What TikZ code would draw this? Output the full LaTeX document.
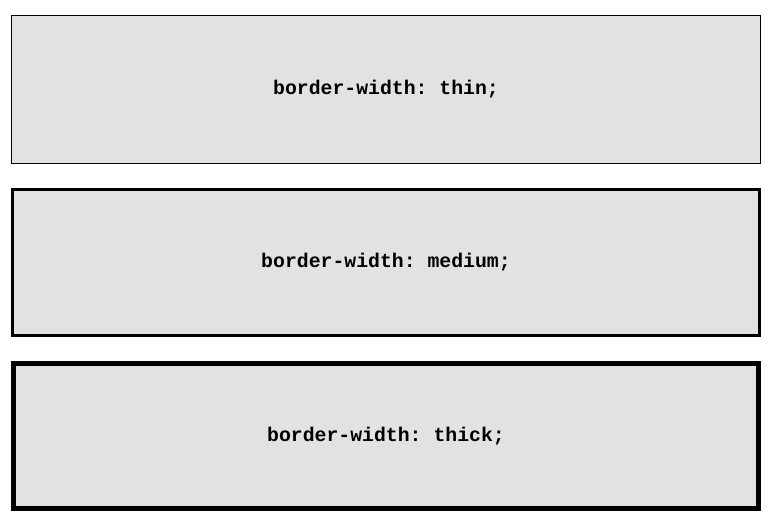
\documentclass[tikz,border=0pt]{standalone}
\usepackage{fontspec}
\setmonofont{Liberation Mono}
\definecolor{boxgray}{HTML}{E2E2E2}
\begin{document}
\begin{tikzpicture}[x=1pt,y=-1pt,
  cssbox/.style={fill=boxgray,draw=black},
  lbl/.style={font=\ttfamily\bfseries\fontsize{19.8}{22}\selectfont,inner sep=0pt}]
\useasboundingbox (0,0) rectangle (773,528);
\draw[cssbox,line width=1pt] (11.5,15.5) rectangle (760.5,163.5);
\node[lbl] (t1) at (386,89.5) {border-width: thin;};
\draw[cssbox,line width=3pt] (12.5,189.5) rectangle (759.5,335.5);
\node[lbl] (t2) at (386,262.5) {border-width: medium;};
\draw[cssbox,line width=5pt] (13.5,363.5) rectangle (758.5,508.5);
\node[lbl] (t3) at (386,436) {border-width: thick;};
\end{tikzpicture}
\end{document}
